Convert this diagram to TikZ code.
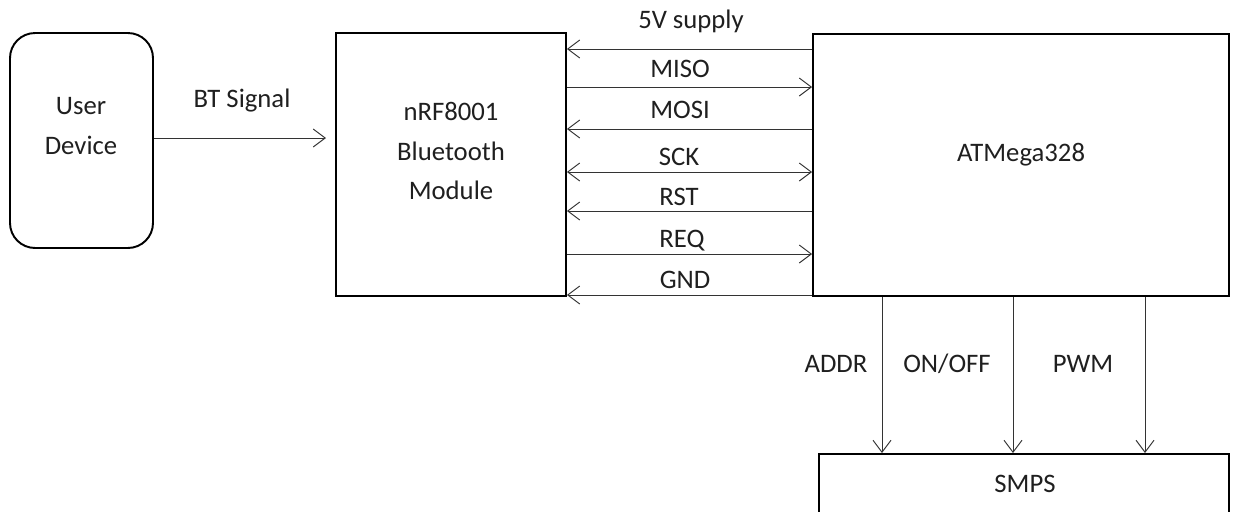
\documentclass[tikz,border=0pt]{standalone}
\usepackage{fontspec}
\setmainfont{Carlito}
\usetikzlibrary{arrows.meta}

\tikzset{
    block/.style={draw=black, line width=1.1pt, inner sep=0pt},
    sig/.style={draw=black!80, line width=0.55pt},
    txt/.style={font=\fontsize{15.2}{22.7}\selectfont, text=black!88, align=center, inner sep=0pt},
    >={Straight Barb[length=2.4mm,width=3.6mm]}
}

\begin{document}
\begin{tikzpicture}[x=0.02cm, y=-0.02cm]
            \useasboundingbox (0,0) rectangle (1233,511);
            \node[block, rounded corners=0.5cm, minimum width=2.86cm, minimum height=4.3cm] (user) at (81.5,140.5) {};
            \node[block, minimum width=4.6cm, minimum height=5.26cm] (nrf) at (451,164.5) {};
            \node[block, minimum width=8.32cm, minimum height=5.24cm] (atm) at (1021,165) {};
            \node[block, minimum width=8.2cm, minimum height=1.32cm] (smps) at (1024,487) {};
            \node[txt] (usertxt) at (81,126) {User\\Device};
            \node[txt] (nrftxt) at (451,151) {nRF8001\\Bluetooth\\Module};
            \node[txt] (atmtxt) at (1021,155) {ATMega328};
            \node[txt, anchor=base] (smpstxt) at (1025,492) {SMPS};
            \node[txt, anchor=base] (bt) at (242,107) {BT Signal};
            \node[txt, anchor=base] (vcc) at (691,28) {5V supply};
            \node[txt, anchor=base] (miso) at (680,77) {MISO};
            \node[txt, anchor=base] (mosi) at (680,118) {MOSI};
            \node[txt, anchor=base] (sck) at (679,165) {SCK};
            \node[txt, anchor=base] (rst) at (679,205) {RST};
            \node[txt, anchor=base] (req) at (682,247) {REQ};
            \node[txt, anchor=base] (gnd) at (685,288) {GND};
            \node[txt, anchor=base] (addr) at (836,372) {ADDR};
            \node[txt, anchor=base] (onoff) at (947,372) {ON/OFF};
            \node[txt, anchor=base] (pwm) at (1083,372) {PWM};
            \coordinate (bttip) at (326,138);
            \draw[sig, ->] (user.east |- bttip) -- (bttip);
            \draw[sig, ->] (atm.west |- 0,49) -- (nrf.east |- 0,49);
            \draw[sig, ->] (nrf.east |- 0,87) -- (atm.west |- 0,87);
            \draw[sig, ->] (atm.west |- 0,129) -- (nrf.east |- 0,129);
            \draw[sig, <->] (nrf.east |- 0,172) -- (atm.west |- 0,172);
            \draw[sig, ->] (atm.west |- 0,211) -- (nrf.east |- 0,211);
            \draw[sig, ->] (nrf.east |- 0,254) -- (atm.west |- 0,254);
            \draw[sig, ->] (atm.west |- 0,295) -- (nrf.east |- 0,295);
            \draw[sig, ->] (882,0 |- atm.south) -- (882,0 |- smps.north);
            \draw[sig, ->] (1013,0 |- atm.south) -- (1013,0 |- smps.north);
            \draw[sig, ->] (1145,0 |- atm.south) -- (1145,0 |- smps.north);
        \end{tikzpicture}
\end{document}
